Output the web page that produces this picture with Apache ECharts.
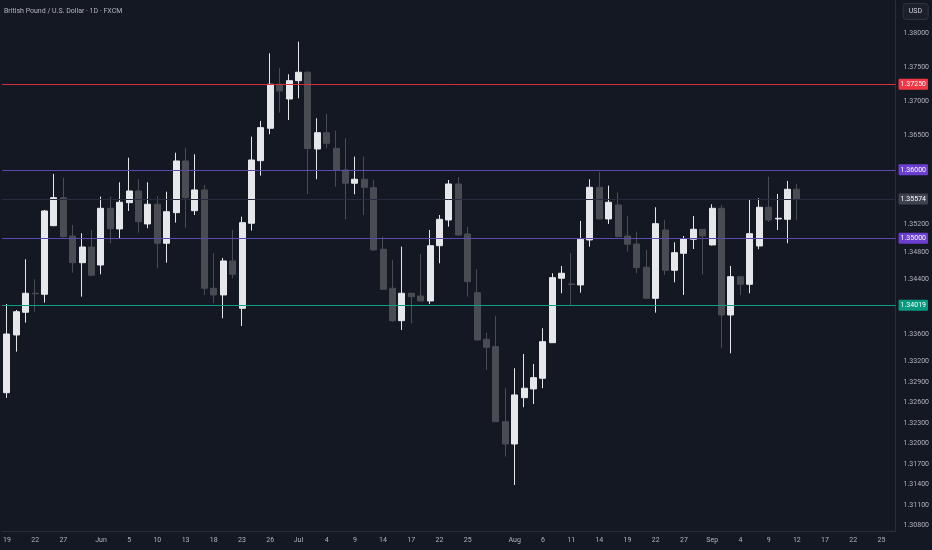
<!DOCTYPE html>
<html>
<head>
<meta charset="utf-8">
<title>GBPUSD 1D</title>
<script src="https://cdn.jsdelivr.net/npm/echarts@6/dist/echarts.min.js"></script>
<style>
  html, body { margin: 0; padding: 0; background: #141823; }
  #chart { width: 932px; height: 550px; }
</style>
</head>
<body>
<div id="chart"></div>
<script>
// trading days, 2025 (MM-DD), last 10 are empty future slots
const dates = [
  '05-19','05-20','05-21','05-22','05-23','05-26','05-27','05-28','05-29','05-30',
  '06-02','06-03','06-04','06-05','06-06','06-09','06-10','06-11','06-12','06-13',
  '06-16','06-17','06-18','06-19','06-20','06-23','06-24','06-25','06-26','06-27','06-30',
  '07-01','07-02','07-03','07-04','07-07','07-08','07-09','07-10','07-11','07-14',
  '07-15','07-16','07-17','07-18','07-21','07-22','07-23','07-24','07-25','07-28',
  '07-29','07-30','07-31',
  '08-01','08-04','08-05','08-06','08-07','08-08','08-11','08-12','08-13','08-14',
  '08-15','08-18','08-19','08-20','08-21','08-22','08-25','08-26','08-27','08-28','08-29',
  '09-01','09-02','09-03','09-04','09-05','09-08','09-09','09-10','09-11','09-12',
  '09-15','09-16','09-17','09-18','09-19','09-22','09-23','09-24','09-25','09-26'
];

const opens = [
  1.32741,1.33585,1.33917,1.34195,1.34180,1.35183,1.35592,1.35032,1.34642,1.34871,
  1.34608,1.35437,1.35135,1.35519,1.35690,1.35208,1.35496,1.34926,1.35373,1.36129,
  1.35402,1.35705,1.34268,1.34170,1.34667,1.33975,1.35218,1.36133,1.36607,1.37250,1.37035,
  1.37303,1.37426,1.36304,1.36542,1.36314,1.35997,1.35803,1.35861,1.35738,1.34838,
  1.34268,1.33794,1.34195,1.34155,1.34082,1.34890,1.35266,1.35792,1.35061,1.34203,
  1.33522,1.33414,1.32317,
  1.31991,1.32668,1.32796,1.32952,1.33472,1.34414,1.34330,1.34316,1.34974,1.35744,
  1.35281,1.35485,1.35032,1.34915,1.34575,1.34121,1.35120,1.34531,1.34779,1.34984,1.35130,
  1.34901,1.35437,1.33877,1.34437,1.34326,1.34886,1.35452,1.35281,1.35276,1.35715
];
const highs = [
  1.34038,1.33950,1.34692,1.34399,1.35412,1.35939,1.35885,1.35193,1.35072,1.35120,
  1.35607,1.35607,1.35817,1.36177,1.35861,1.35817,1.35617,1.35680,1.36250,1.36323,
  1.36227,1.35778,1.34779,1.34711,1.35120,1.35314,1.36484,1.36714,1.37703,1.37484,1.37396,
  1.37873,1.37440,1.36753,1.36816,1.36572,1.36461,1.36192,1.36192,1.35851,1.35022,
  1.34681,1.34876,1.34198,1.34769,1.35120,1.35339,1.35851,1.35895,1.35168,1.34545,
  1.33618,1.33863,1.32806,
  1.33098,1.33307,1.33161,1.33683,1.34487,1.34594,1.34779,1.35252,1.35861,1.35968,
  1.35768,1.35671,1.35325,1.35095,1.34828,1.35452,1.35266,1.34940,1.35032,1.35325,1.35135,
  1.35496,1.35485,1.34594,1.34440,1.35559,1.35583,1.35899,1.35646,1.35836,1.35792
];
const lows = [
  1.32664,1.33341,1.33765,1.33925,1.34057,1.35175,1.35010,1.34496,1.34145,1.34447,
  1.34472,1.34926,1.34999,1.35398,1.35080,1.35145,1.34560,1.34642,1.35227,1.35154,
  1.35339,1.34170,1.34048,1.33829,1.34414,1.33716,1.35110,1.35914,1.36519,1.36835,1.36728,
  1.37045,1.35646,1.35861,1.36314,1.35753,1.35276,1.35642,1.35339,1.34820,1.34243,
  1.33775,1.33658,1.33756,1.34075,1.34038,1.34633,1.35168,1.35040,1.34145,1.33505,
  1.33073,1.32313,1.31806,
  1.31392,1.32528,1.32576,1.32806,1.33468,1.34195,1.34009,1.34203,1.34876,1.35273,
  1.35208,1.35018,1.34803,1.34487,1.34114,1.33911,1.34462,1.34355,1.34170,1.34842,1.34472,
  1.34894,1.33390,1.33317,1.34170,1.34195,1.34838,1.35237,1.35120,1.34926,1.35266
];
const closes = [
  1.33599,1.33925,1.34195,1.34187,1.35398,1.35592,1.35022,1.34642,1.34871,1.34458,
  1.35437,1.35139,1.35525,1.35690,1.35241,1.35496,1.34926,1.35387,1.36129,1.35592,
  1.35705,1.34268,1.34170,1.34667,1.34472,1.35227,1.36143,1.36616,1.37250,1.37152,1.37303,
  1.37426,1.36310,1.36542,1.36387,1.35997,1.35803,1.35861,1.35744,1.34828,1.34253,
  1.33794,1.34195,1.34145,1.34082,1.34890,1.35276,1.35792,1.35047,1.34364,1.33512,
  1.33405,1.32317,1.31991,
  1.32708,1.32806,1.32961,1.33487,1.34423,1.34487,1.34323,1.34984,1.35744,1.35281,
  1.35525,1.35022,1.34911,1.34569,1.34121,1.35212,1.34531,1.34788,1.34993,1.35130,1.35032,
  1.35437,1.33877,1.34437,1.34326,1.35066,1.35452,1.35266,1.35291,1.35715,1.35574
];

// x-axis tick labels as shown on the chart
const xTickDates  = ['05-19','05-22','05-27','06-02','06-05','06-10','06-13','06-18','06-23','06-26',
                     '07-01','07-04','07-09','07-14','07-17','07-22','07-25','08-01','08-06','08-11',
                     '08-14','08-19','08-22','08-27','09-01','09-04','09-09','09-12','09-17','09-22','09-25'];
const xTickLabels = ['19','22','27','Jun','5','10','13','18','23','26',
                     'Jul','4','9','14','17','22','25','Aug','6','11',
                     '14','19','22','27','Sep','4','9','12','17','22','25'];

// y-axis price labels
const yTicks = [1.38, 1.375, 1.37, 1.365, 1.352, 1.348, 1.344, 1.336, 1.332, 1.329,
                1.326, 1.323, 1.32, 1.317, 1.314, 1.311, 1.308];

// horizontal levels: value, line colour, badge colour
const levelValues = [1.35574, 1.3725, 1.36, 1.35, 1.34019];
const levelLine   = ['#272c3e', '#d7303f', '#5b49ad', '#5b49ad', '#0d9c85'];
const levelBadge  = ['#3e424e', '#f23645', '#6a3fcf', '#6a3fcf', '#089981'];

const FONT = 'Roboto';
const TXT = '#b2b5be';

const candles = dates.map((d, i) =>
  i < opens.length ? [opens[i], closes[i], lows[i], highs[i]] : '-'
);

// one empty helper series per level line, so each keeps its own colour
const levelSeries = levelValues.map((v, i) => ({
  type: 'line',
  name: 'level' + i,
  data: [],
  silent: true,
  z: 1,
  markLine: {
    silent: true,
    symbol: 'none',
    precision: 5,
    animation: false,
    lineStyle: {color: levelLine[i], width: 1, type: 'solid', opacity: 1},
    label: {
      show: true,
      position: 'end',
      distance: 3,
      formatter: v.toFixed(5),
      color: '#ffffff',
      fontSize: 7,
      fontFamily: FONT,
      backgroundColor: levelBadge[i],
      padding: [2, 2],
      borderRadius: 1
    },
    emphasis: {disabled: true},
    data: [{yAxis: v}]
  }
}));

const chart = echarts.init(document.getElementById('chart'), null, {renderer: 'canvas'});

chart.setOption({
  animation: false,
  backgroundColor: '#141823',
  textStyle: {fontFamily: FONT},
  title: [
    {
      text: 'British Pound / U.S. Dollar · 1D · FXCM',
      left: 4, top: 8,
      padding: 0,
      textStyle: {fontSize: 7, fontWeight: 'normal', color: TXT, fontFamily: FONT}
    },
    {
      text: 'USD',
      right: 4, top: 3,
      padding: [5, 6],
      backgroundColor: '#1c202b',
      borderColor: '#2f3340',
      borderWidth: 1,
      borderRadius: 3,
      textStyle: {fontSize: 7, fontWeight: 'normal', color: '#d1d4dc', fontFamily: FONT}
    }
  ],
  grid: {left: 0, right: 35, top: 0, bottom: 19, containLabel: false},
  xAxis: {
    type: 'category',
    data: dates,
    boundaryGap: true,
    axisLine: {show: true, lineStyle: {color: '#2a2e39'}},
    axisTick: {show: false},
    splitLine: {show: false},
    axisLabel: {
      color: TXT,
      fontSize: 7,
      fontFamily: FONT,
      margin: 6,
      interval: (idx, val) => xTickDates.indexOf(val) >= 0,
      formatter: (val) => {
        const k = xTickDates.indexOf(val);
        return k >= 0 ? xTickLabels[k] : '';
      }
    }
  },
  yAxis: {
    type: 'value',
    position: 'right',
    min: 1.30719,
    max: 1.38482,
    scale: true,
    axisLine: {show: true, lineStyle: {color: '#2a2e39'}},
    axisTick: {show: false},
    splitLine: {show: false},
    axisLabel: {
      customValues: yTicks,
      color: TXT,
      fontSize: 7,
      fontFamily: FONT,
      margin: 8,
      formatter: (v) => v.toFixed(5)
    }
  },
  series: [{
    type: 'candlestick',
    data: candles,
    barWidth: 6.5,
    z: 3,
    itemStyle: {
      color: '#e6e7eb',
      color0: '#4a4c53',
      borderColor: '#e6e7eb',
      borderColor0: '#4a4c53',
      borderWidth: 1
    }
  }].concat(levelSeries)
});
</script>
</body>
</html>
